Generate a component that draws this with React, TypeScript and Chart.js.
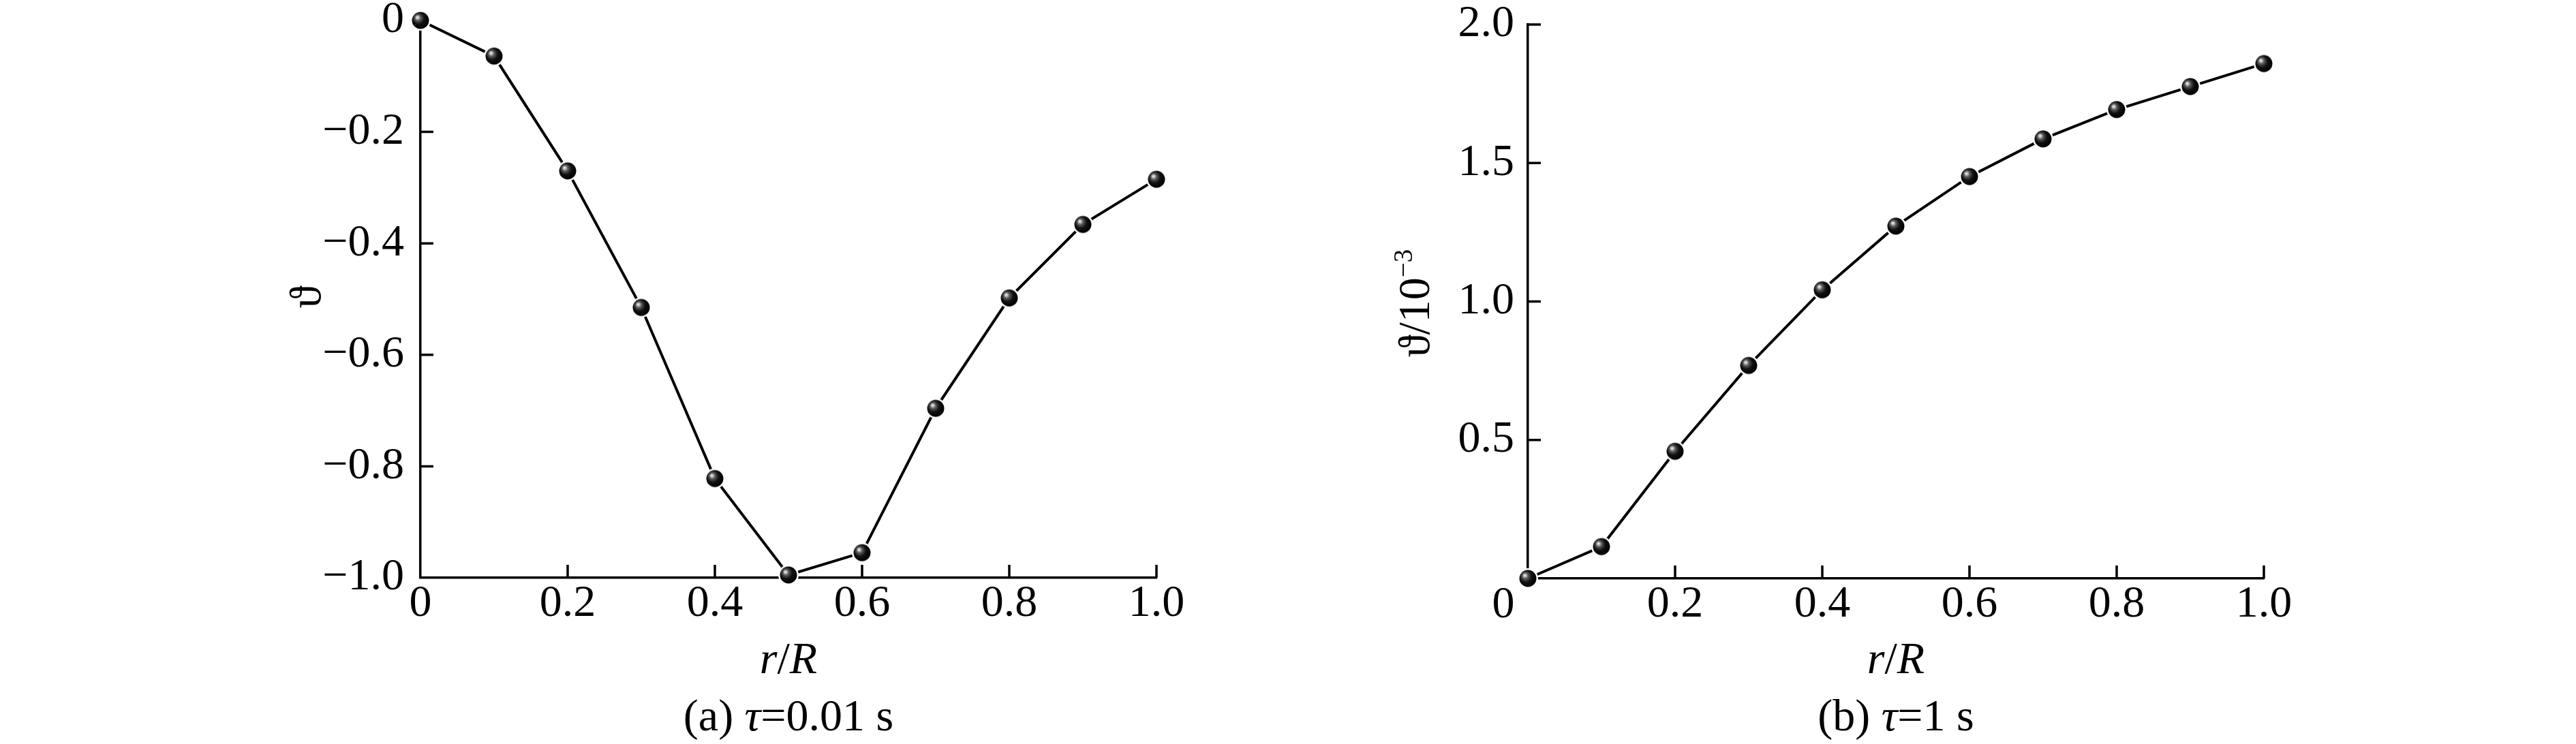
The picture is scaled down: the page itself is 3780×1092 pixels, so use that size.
import React, { useEffect, useRef } from 'react';
import { Chart, registerables } from 'chart.js';

Chart.register(...registerables);

// ---------------- data ----------------
const rValues = [0, 0.1, 0.2, 0.3, 0.4, 0.5, 0.6, 0.7, 0.8, 0.9, 1.0];
const thetaA = [0, -0.064, -0.27, -0.515, -0.822, -0.995, -0.955, -0.696, -0.498, -0.366, -0.285];
const thetaB = [0, 0.115, 0.459, 0.769, 1.042, 1.272, 1.451, 1.587, 1.693, 1.776, 1.859];

const xTickValues = [0, 0.2, 0.4, 0.6, 0.8, 1.0];
const yTickValuesA = [0, -0.2, -0.4, -0.6, -0.8, -1.0];
const yTickValuesB = [0.5, 1.0, 1.5, 2.0];

const yTitleA = '\u03D1';
const yTitleB = '\u03D1/10';
const yTitleBSup = '\u22123';
const xTitleR = 'r';
const xTitleSlash = '/';
const xTitleRR = 'R';
const captionAPre = '(a) ';
const captionTau = '\u03C4';
const captionAPost = '=0.01 s';
const captionBPre = '(b) ';
const captionBPost = '=1 s';
const zeroLabel = '0';

// ---------------- helpers ----------------
const FAMILY = '"Liberation Serif", "Times New Roman", serif';
const FS = 66;
const F_N = `${FS}px ${FAMILY}`;
const F_I = `italic ${FS}px ${FAMILY}`;
const F_SUP = `39px ${FAMILY}`;

type Run = { t: string; f: string; dy?: number };

function runsWidth(ctx: CanvasRenderingContext2D, runs: Run[]) {
  let w = 0;
  for (const r of runs) {
    ctx.font = r.f;
    w += ctx.measureText(r.t).width;
  }
  return w;
}

function drawRuns(ctx: CanvasRenderingContext2D, runs: Run[], cx: number, by: number) {
  let x = cx - runsWidth(ctx, runs) / 2;
  ctx.textBaseline = 'alphabetic';
  ctx.textAlign = 'left';
  for (const r of runs) {
    ctx.font = r.f;
    ctx.fillText(r.t, x, by + (r.dy || 0));
    x += ctx.measureText(r.t).width;
  }
}

function fmt(v: number) {
  if (Math.abs(v) < 1e-9) return '0';
  const s = Math.abs(v).toFixed(1);
  return v < 0 ? '\u2212' + s : s;
}

function makeBall(r: number, ring: number) {
  const size = Math.ceil((r + ring) * 2) + 2;
  const c = document.createElement('canvas');
  c.width = size;
  c.height = size;
  const g = c.getContext('2d')!;
  const m = size / 2;
  g.fillStyle = '#fff';
  g.beginPath();
  g.arc(m, m, r + ring, 0, Math.PI * 2);
  g.fill();
  const grad = g.createRadialGradient(m - r * 0.38, m - r * 0.38, 0, m - r * 0.15, m - r * 0.15, r * 1.15);
  grad.addColorStop(0, '#f6f6f6');
  grad.addColorStop(0.12, '#c8c8c8');
  grad.addColorStop(0.3, '#5a5a5a');
  grad.addColorStop(0.6, '#111');
  grad.addColorStop(1, '#000');
  g.fillStyle = grad;
  g.beginPath();
  g.arc(m, m, r, 0, Math.PI * 2);
  g.fill();
  return c;
}

type DecorOpts = {
  yInward: number[];
  xInward: number[];
  yTitle: Run[];
  yTitleDx: number;
  yTitleCy: number;
  xTitleDy: number;
  caption: Run[];
  captionDy: number;
  zeroDx: number | null;
};

const TICK_LEN = 19;
const AXIS_W = 3.5;

function decorPlugin(o: DecorOpts) {
  return {
    id: 'decor',
    beforeDatasetsDraw(chart: any) {
      const ctx: CanvasRenderingContext2D = chart.ctx;
      const { left, bottom } = chart.chartArea;
      const xs = chart.scales.x;
      const ys = chart.scales.y;
      ctx.save();
      ctx.strokeStyle = '#000';
      ctx.lineWidth = AXIS_W;
      ctx.beginPath();
      for (const v of o.yInward) {
        const py = ys.getPixelForValue(v);
        ctx.moveTo(left, py);
        ctx.lineTo(left + TICK_LEN, py);
      }
      for (const v of o.xInward) {
        const px = xs.getPixelForValue(v);
        ctx.moveTo(px, bottom);
        ctx.lineTo(px, bottom - TICK_LEN);
      }
      ctx.stroke();
      ctx.restore();
    },
    afterDraw(chart: any) {
      const ctx: CanvasRenderingContext2D = chart.ctx;
      const { left, right, bottom } = chart.chartArea;
      const xs = chart.scales.x;
      const cx = (left + right) / 2;
      ctx.save();
      ctx.fillStyle = '#000';
      // y title (rotated)
      ctx.save();
      ctx.translate(left - o.yTitleDx, o.yTitleCy);
      ctx.rotate(-Math.PI / 2);
      drawRuns(ctx, o.yTitle, 0, 0);
      ctx.restore();
      // x title
      drawRuns(
        ctx,
        [
          { t: xTitleR, f: F_I },
          { t: xTitleSlash, f: F_N },
          { t: xTitleRR, f: F_I },
        ],
        cx,
        bottom + o.xTitleDy
      );
      // caption
      drawRuns(ctx, o.caption, cx, bottom + o.captionDy);
      // shifted origin label
      if (o.zeroDx !== null) {
        ctx.font = F_N;
        ctx.textAlign = 'center';
        ctx.textBaseline = 'middle';
        ctx.fillText(zeroLabel, xs.getPixelForValue(0) - o.zeroDx, bottom + 7 + FS / 2);
      }
      ctx.restore();
    },
  };
}

function makeConfig(
  values: number[],
  yTicks: number[],
  yMin: number,
  yMax: number,
  yAxisWidth: number,
  yLabelPad: number,
  pad: { top: number; right: number },
  xAxisHeight: number,
  hideXZero: boolean,
  ball: HTMLCanvasElement,
  decor: DecorOpts
): any {
  return {
    type: 'scatter',
    data: {
      datasets: [
        {
          data: rValues.map((r, i) => ({ x: r, y: values[i] })),
          showLine: true,
          borderColor: '#000',
          borderWidth: 4,
          tension: 0,
          pointStyle: ball,
          pointRadius: 13,
          pointHoverRadius: 13,
          clip: false,
        },
      ],
    },
    options: {
      animation: false,
      responsive: false,
      devicePixelRatio: 1,
      events: [],
      layout: { padding: { left: 0, top: pad.top, right: pad.right, bottom: 0 } },
      plugins: { legend: { display: false }, tooltip: { enabled: false } },
      scales: {
        x: {
          type: 'linear',
          position: 'bottom',
          min: 0,
          max: 1,
          grid: { display: false, drawTicks: false, tickLength: 0 },
          border: { display: true, color: '#000', width: AXIS_W },
          ticks: {
            color: '#000',
            font: { family: FAMILY, size: FS, lineHeight: 1 },
            padding: 6,
            autoSkip: false,
            maxRotation: 0,
            minRotation: 0,
            callback: (v: number) => (hideXZero && Math.abs(v) < 1e-9 ? '' : fmt(v)),
          },
          afterBuildTicks: (s: any) => {
            s.ticks = xTickValues.map((v) => ({ value: v }));
          },
          afterFit: (s: any) => {
            s.height = xAxisHeight;
            s.paddingLeft = 0;
            s.paddingRight = 0;
          },
        },
        y: {
          type: 'linear',
          position: 'left',
          min: yMin,
          max: yMax,
          grid: { display: false, drawTicks: false, tickLength: 0 },
          border: { display: true, color: '#000', width: AXIS_W },
          ticks: {
            color: '#000',
            font: { family: FAMILY, size: FS, lineHeight: 1 },
            padding: yLabelPad,
            autoSkip: false,
            callback: (v: number) => fmt(v),
          },
          afterBuildTicks: (s: any) => {
            s.ticks = yTicks.map((v) => ({ value: v }));
          },
          afterFit: (s: any) => {
            s.width = yAxisWidth;
            s.paddingTop = 0;
            s.paddingBottom = 0;
          },
        },
      },
    },
    plugins: [decorPlugin(decor)],
  };
}

const W = 1890;
const H = 1092;

export default function App() {
  const refA = useRef<HTMLCanvasElement>(null);
  const refB = useRef<HTMLCanvasElement>(null);

  useEffect(() => {
    const ball = makeBall(12.5, 2.5);
    const chartA = new Chart(
      refA.current!,
      makeConfig(
        thetaA,
        yTickValuesA,
        -1.0,
        0,
        617,
        24,
        { top: 30, right: W - 1697 },
        H - 848,
        false,
        ball,
        {
          yInward: [-0.2, -0.4, -0.6, -0.8],
          xInward: [0.2, 0.4, 0.6, 0.8, 1.0],
          yTitle: [{ t: yTitleA, f: F_N }],
          yTitleDx: 147,
          yTitleCy: 436,
          xTitleDy: 140,
          caption: [
            { t: captionAPre, f: F_N },
            { t: captionTau, f: F_I },
            { t: captionAPost, f: F_N },
          ],
          captionDy: 224,
          zeroDx: null,
        }
      )
    );
    const chartB = new Chart(
      refB.current!,
      makeConfig(
        thetaB,
        yTickValuesB,
        0,
        2.0,
        2242 - W,
        20,
        { top: 36, right: W - (3322 - W) },
        H - 849,
        true,
        ball,
        {
          yInward: [0.5, 1.0, 1.5, 2.0],
          xInward: [0.2, 0.4, 0.6, 0.8, 1.0],
          yTitle: [
            { t: yTitleB, f: F_N },
            { t: yTitleBSup, f: F_SUP, dy: -25 },
          ],
          yTitleDx: 145,
          yTitleCy: 445,
          xTitleDy: 139,
          caption: [
            { t: captionBPre, f: F_N },
            { t: captionTau, f: F_I },
            { t: captionBPost, f: F_N },
          ],
          captionDy: 223,
          zeroDx: 36,
        }
      )
    );
    return () => {
      chartA.destroy();
      chartB.destroy();
    };
  }, []);

  return (
    <div style={{ position: 'absolute', left: 0, top: 0, width: 3780, height: H, background: '#fff' }}>
      <canvas
        ref={refA}
        width={W}
        height={H}
        style={{ position: 'absolute', left: 0, top: 0, width: W, height: H }}
      />
      <canvas
        ref={refB}
        width={W}
        height={H}
        style={{ position: 'absolute', left: W, top: 0, width: W, height: H }}
      />
    </div>
  );
}
